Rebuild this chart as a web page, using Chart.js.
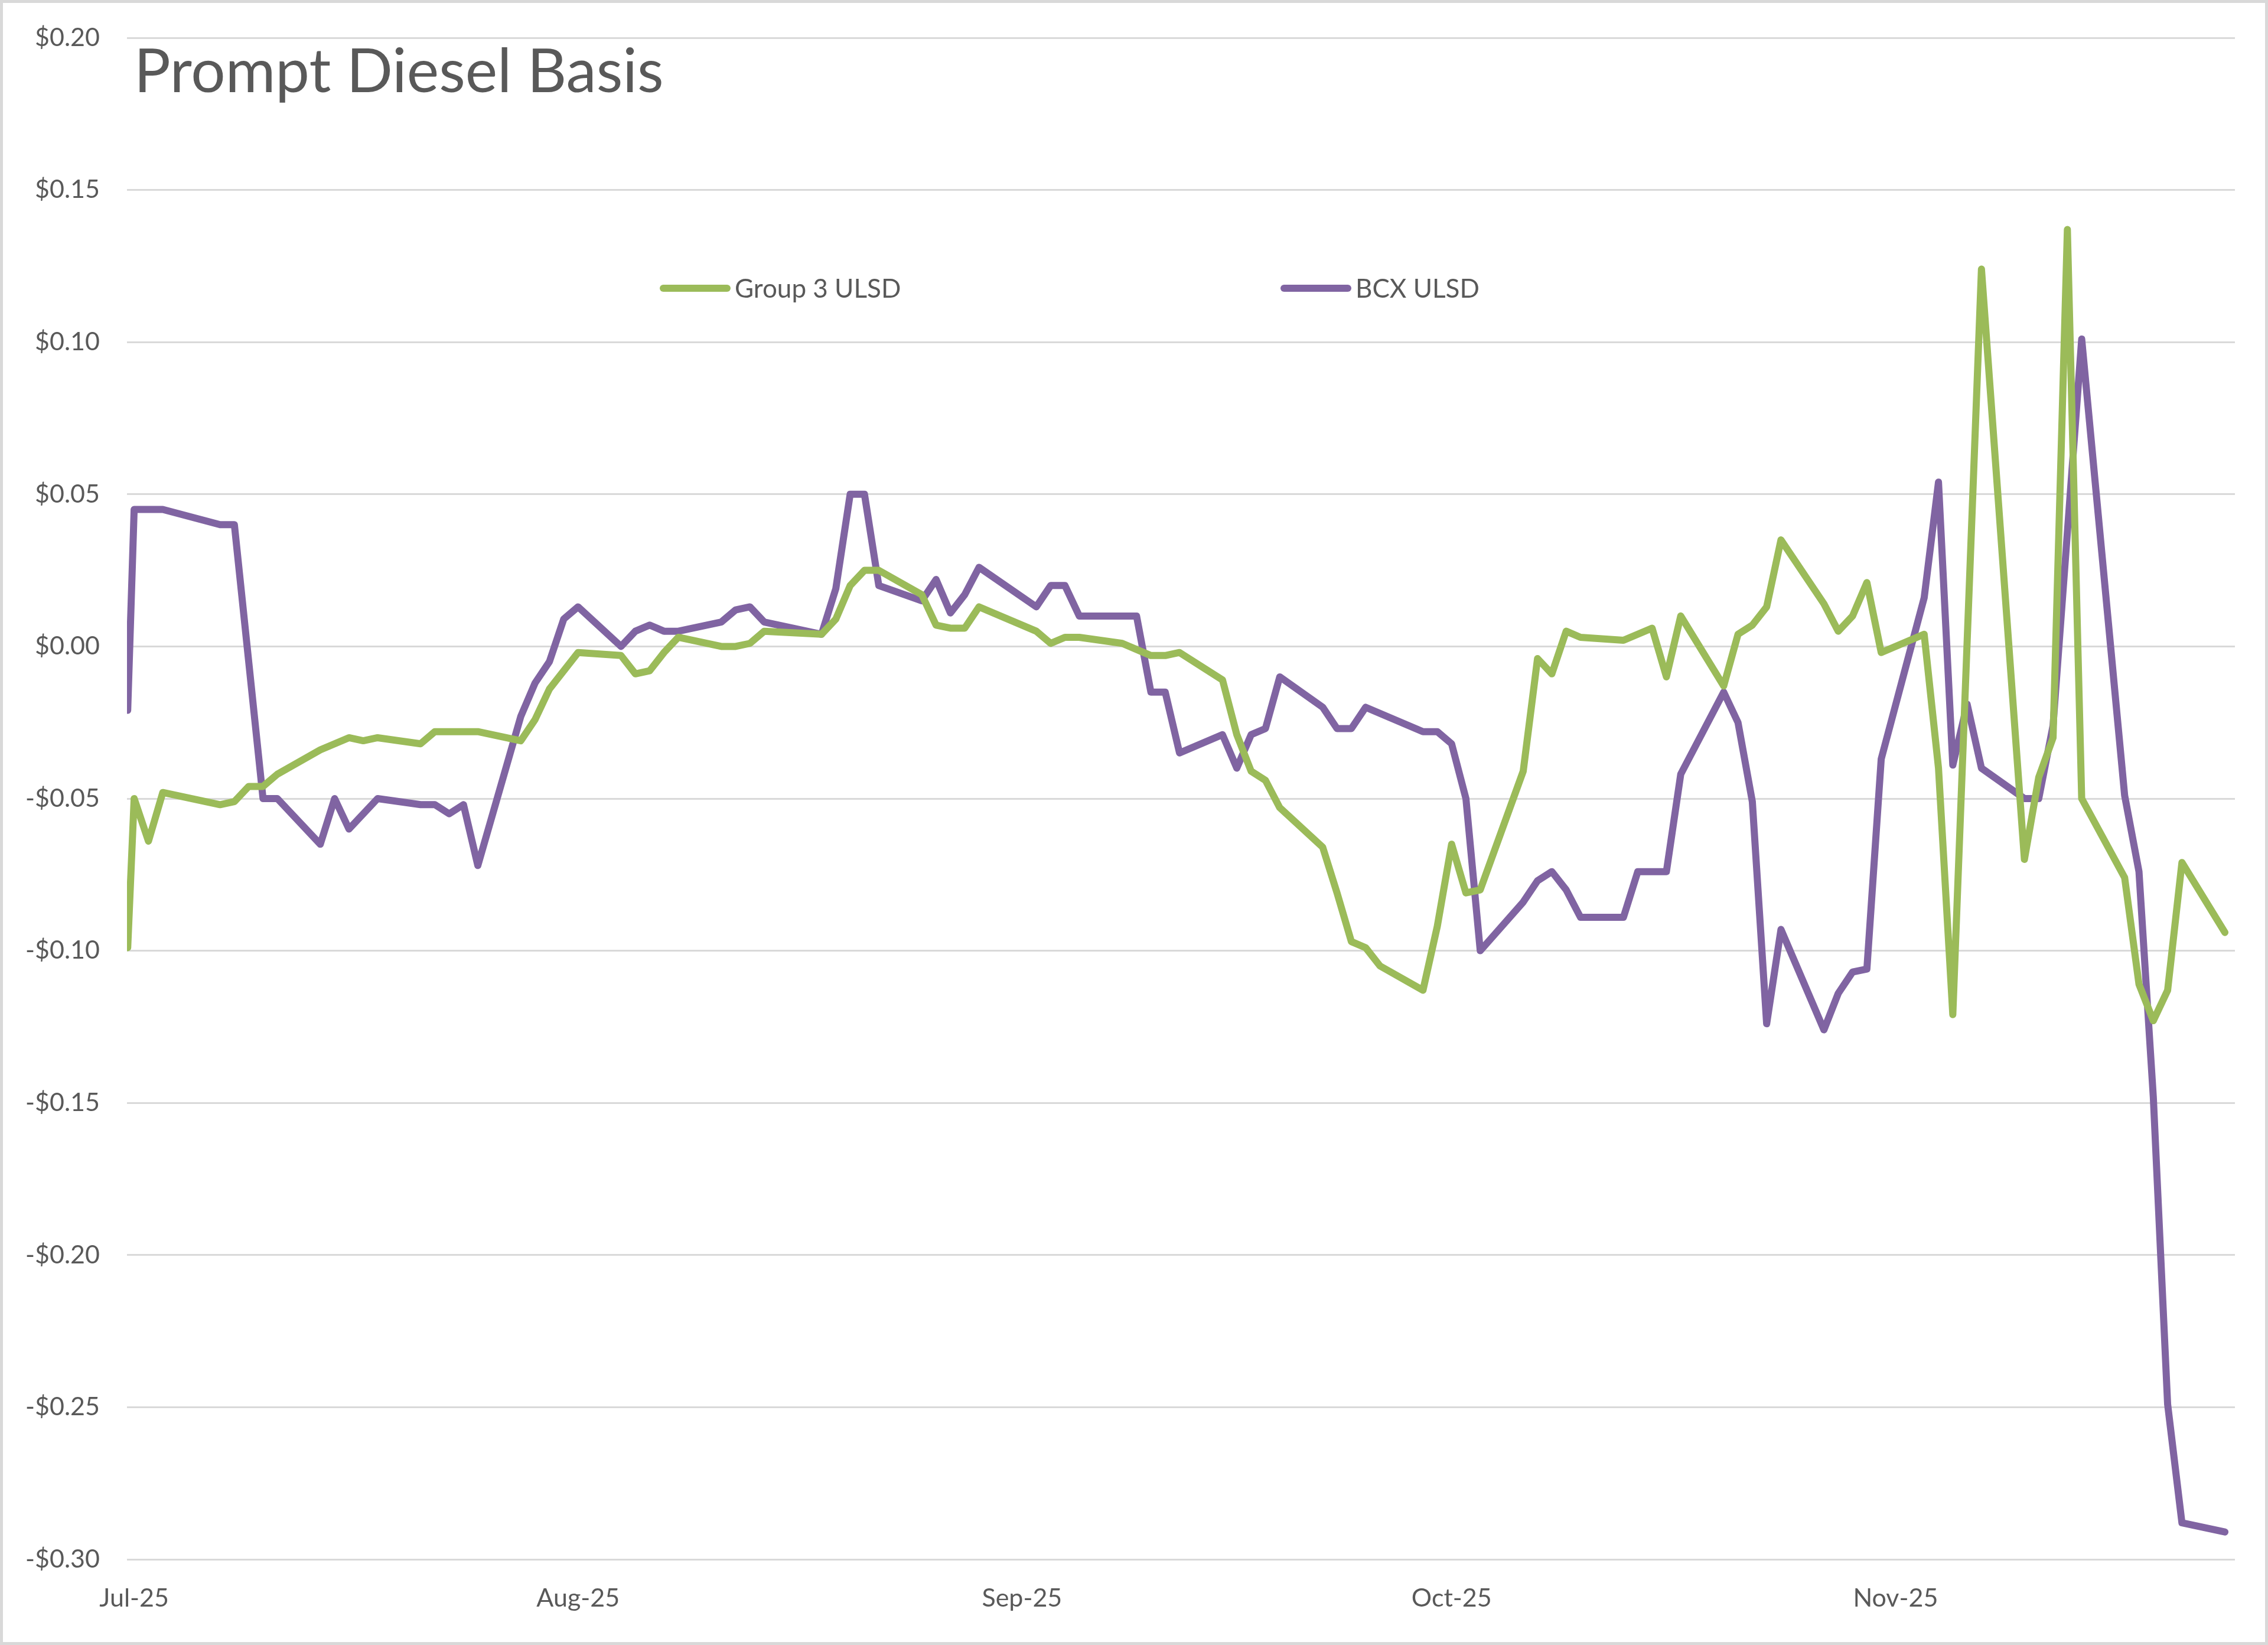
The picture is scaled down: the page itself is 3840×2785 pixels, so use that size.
<!DOCTYPE html>
<html>
<head>
<meta charset="utf-8">
<title>Prompt Diesel Basis</title>
<script src="https://cdn.jsdelivr.net/npm/chart.js@4.4.1/dist/chart.umd.min.js"></script>
<style>
  html, body { margin: 0; padding: 0; background: #fff; }
  #wrap {
    width: 3840px;
    height: 2785px;
    box-sizing: border-box;
    border: 5px solid #d9d9d9;
    background: #fff;
  }
</style>
</head>
<body>
<div id="wrap"><canvas id="myChart"></canvas></div>
<script>
// days counted from 1 Jul 2025 (trading days)
const days = [
  -0.45, 0, 1, 2, 6, 7, 8, 9, 10, 13, 14, 15, 16, 17, 20, 21, 22, 23, 24, 27, 28, 29, 30,
  31, 34, 35, 36, 37, 38, 41, 42, 43, 44, 48, 49, 50, 51, 52, 55, 56, 57, 58, 59,
  63, 64, 65, 66, 69, 70, 71, 72, 73, 76, 77, 78, 79, 80, 83, 84, 85, 86, 87, 90,
  91, 92, 93, 94, 97, 98, 99, 100, 101, 104, 105, 106, 107, 108, 111, 112, 113, 114, 115, 118, 119, 120, 121, 122,
  125, 126, 127, 128, 129, 132, 133, 134, 135, 136, 139, 140, 141, 142, 143, 146,
];

const group3 = [
  -0.099, -0.050, -0.064, -0.048, -0.052, -0.051, -0.046, -0.046, -0.042, -0.034, -0.032, -0.030, -0.031, -0.030, -0.032, -0.028, null, null, -0.028, -0.031, -0.024, -0.014, null,
  -0.002, -0.003, -0.009, -0.008, -0.002, 0.003, 0.000, 0.000, 0.001, 0.005, 0.004, 0.009, 0.020, 0.025, 0.025, 0.017, 0.007, 0.006, 0.006, 0.013,
  0.005, 0.001, 0.003, 0.003, 0.001, null, -0.003, -0.003, -0.002, -0.011, -0.029, -0.041, -0.044, -0.053, -0.066, -0.081, -0.097, -0.099, -0.105, -0.113,
  -0.092, -0.065, -0.081, -0.080, -0.041, -0.004, -0.009, 0.005, 0.003, 0.002, 0.004, 0.006, -0.010, 0.010, -0.013, 0.004, 0.007, 0.013, 0.035, 0.014, 0.005, 0.010, 0.021, -0.002,
  0.004, -0.040, -0.121, null, 0.124, -0.070, -0.043, -0.030, 0.137, -0.050, -0.076, -0.111, -0.123, -0.113, -0.071, -0.094,
];

const bcx = [
  -0.021, 0.045, null, 0.045, 0.040, 0.040, null, -0.050, -0.050, -0.065, -0.050, -0.060, null, -0.050, -0.052, -0.052, -0.055, -0.052, -0.072, -0.023, -0.012, -0.005, 0.009,
  0.013, 0.000, 0.005, 0.007, 0.005, 0.005, 0.008, 0.012, 0.013, 0.008, 0.004, 0.019, 0.050, 0.050, 0.020, 0.015, 0.022, 0.011, 0.017, 0.026,
  0.013, 0.020, 0.020, 0.010, null, 0.010, -0.015, -0.015, -0.035, -0.029, -0.040, -0.029, -0.027, -0.010, -0.020, -0.027, -0.027, -0.020, null, -0.028,
  -0.028, -0.032, -0.050, -0.100, -0.084, -0.077, -0.074, -0.080, -0.089, -0.089, -0.074, null, -0.074, -0.042, -0.015, -0.025, -0.051, -0.124, -0.093, -0.126, -0.114, -0.107, -0.106, -0.037,
  0.016, 0.054, -0.039, -0.019, -0.040, -0.050, -0.050, -0.026, null, 0.101, -0.049, -0.074, -0.148, -0.249, -0.288, -0.291,
];

const monthDays = [0, 31, 62, 92, 123];
const monthLabels = ["Jul-25", "Aug-25", "Sep-25", "Oct-25", "Nov-25"];

const chartTitle = "Prompt Diesel Basis";
const textColor = "#595959";
const gridColor = "#d9d9d9";

function money(v) {
  const r = Math.round(v * 100) / 100;
  return (r < 0 ? "-$" : "$") + Math.abs(r).toFixed(2);
}

// title and key sit inside the plot, the way the spreadsheet drew them
const titleAndKey = {
  id: "titleAndKey",
  afterDraw(chart) {
    const c = chart.ctx;
    c.save();
    c.fillStyle = textColor;
    c.textBaseline = "alphabetic";
    c.font = "103px Lato";
    c.fillText(chartTitle, 222, 151);

    const keyX = [1112, 2163];
    const keyY = 483;
    c.font = "44px Lato";
    c.textBaseline = "middle";
    chart.data.datasets.forEach((ds, i) => {
      c.strokeStyle = ds.borderColor;
      c.lineWidth = 12;
      c.lineCap = "round";
      c.beginPath();
      c.moveTo(keyX[i] + 6, keyY);
      c.lineTo(keyX[i] + 114, keyY);
      c.stroke();
      c.fillText(ds.label, keyX[i] + 127, keyY + 2);
    });
    c.restore();
  },
};

const ctx = document.getElementById("myChart");

new Chart(ctx, {
  type: "line",
  data: {
    datasets: [
      {
        label: "Group 3 ULSD",
        data: days.map((d, i) => ({ x: d, y: group3[i] })),
        borderColor: "#9bbb59",
        borderWidth: 12,
        borderJoinStyle: "round",
        borderCapStyle: "round",
        pointRadius: 0,
        tension: 0,
        spanGaps: true,
      },
      {
        label: "BCX ULSD",
        data: days.map((d, i) => ({ x: d, y: bcx[i] })),
        borderColor: "#8064a2",
        borderWidth: 12,
        borderJoinStyle: "round",
        borderCapStyle: "round",
        pointRadius: 0,
        tension: 0,
        spanGaps: true,
      },
    ],
  },
  options: {
    responsive: true,
    maintainAspectRatio: false,
    animation: false,
    devicePixelRatio: 1,
    layout: {
      padding: { top: 59, right: 51, bottom: 0, left: 0 },
    },
    plugins: {
      legend: { display: false },
      title: { display: false },
      tooltip: { enabled: false },
    },
    scales: {
      x: {
        type: "linear",
        min: -0.5,
        max: 146.7,
        grid: { display: false },
        border: { display: false },
        afterBuildTicks: (scale) => {
          scale.ticks = monthDays.map((v) => ({ value: v }));
        },
        afterFit: (scale) => {
          scale.height = 140;
        },
        ticks: {
          autoSkip: false,
          maxRotation: 0,
          padding: 32,
          color: textColor,
          font: { family: "Lato", size: 43 },
          callback: (v) => monthLabels[monthDays.indexOf(v)],
        },
      },
      y: {
        min: -0.3,
        max: 0.2,
        grid: { color: gridColor, lineWidth: 3, drawTicks: false },
        border: { display: false },
        afterFit: (scale) => {
          scale.width = 210;
          scale.paddingTop = 0;
          scale.paddingBottom = 0;
        },
        ticks: {
          stepSize: 0.05,
          padding: 46,
          color: textColor,
          font: { family: "Lato", size: 43 },
          callback: (v) => money(v),
        },
      },
    },
  },
  plugins: [titleAndKey],
});
</script>
</body>
</html>
